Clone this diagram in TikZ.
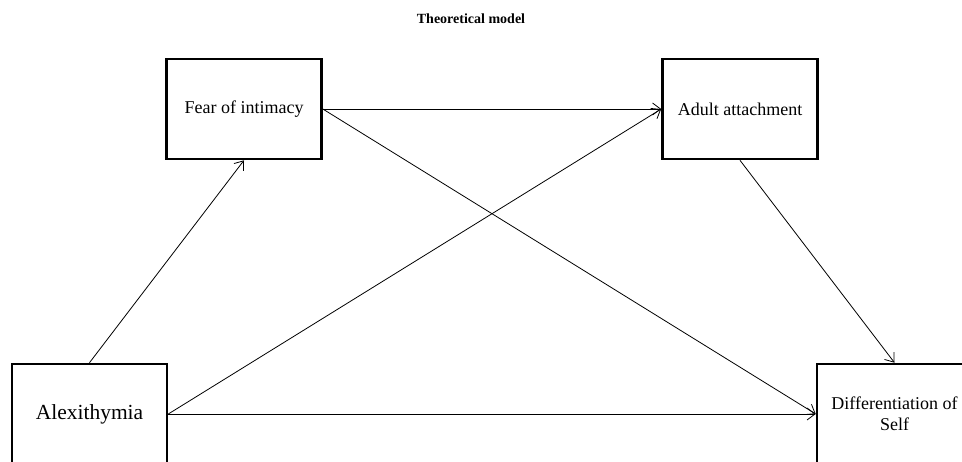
\documentclass[tikz,border=0pt]{standalone}
\usepackage{fontspec}
\setmainfont{Liberation Serif}
\usetikzlibrary{positioning,arrows.meta}

\begin{document}
\begin{tikzpicture}[x=1pt, y=1pt, node distance=496pt,
    >={Straight Barb[length=8pt,width=12pt]},
    var/.style={draw, line width=2.6pt, rectangle, minimum width=155pt, minimum height=100pt,
      align=center, font=\fontsize{18}{21}\selectfont},
    path/.style={->, line width=0.8pt}]
  \useasboundingbox (0,0) rectangle (962,-461);

  \node (title) at (471,-19) {\fontsize{14}{16}\selectfont\bfseries Theoretical model};

  \node (fear) [var] at (244,-109) {Fear of intimacy};
  \node (adult) [var, right of=fear] {Adult attachment};
  \node (alex) [var, font=\fontsize{21.5}{25}\selectfont] at (89.5,-414) {Alexithymia};
  \node (diff) [var, right of=alex, xshift=309pt] {Differentiation of\\Self};

  \draw[path] (alex.north) -- (fear.south);
  \draw[path] (fear.east) -- (adult.west);
  \draw[path] (fear.east) -- (diff.west);
  \draw[path] (alex.east) -- (adult.west);
  \draw[path] (alex.east) -- (diff.west);
  \draw[path] (adult.south) -- (diff.north);
\end{tikzpicture}
\end{document}
